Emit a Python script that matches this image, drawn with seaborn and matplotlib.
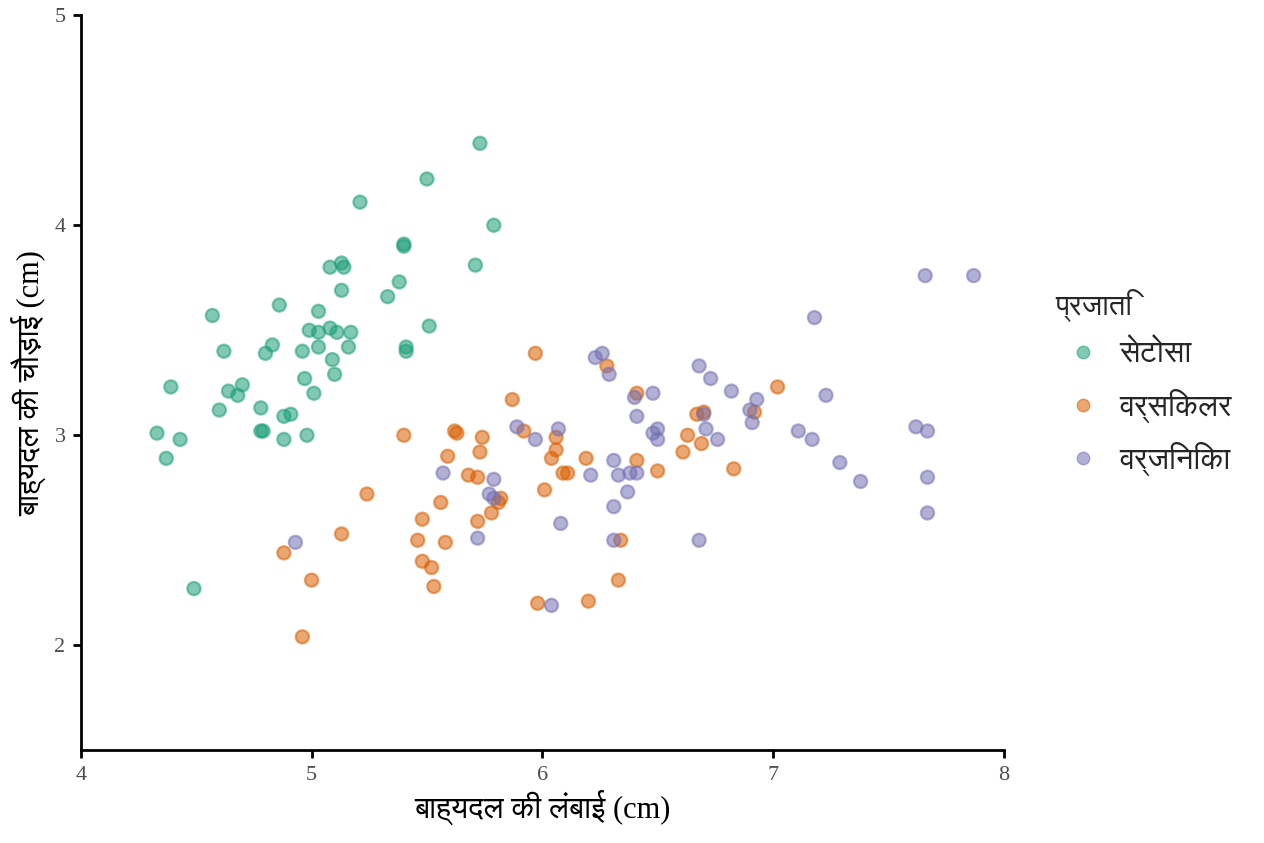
import matplotlib
matplotlib.use("Agg")
from matplotlib import pyplot as plt
from matplotlib import font_manager
from matplotlib.ft2font import FT2Font
import numpy as np
import pandas as pd
import seaborn as sns

# Values (jittered iris sepals)

setosa_len = [
    4.33, 4.37, 4.39, 4.43, 4.49, 4.57, 4.60, 4.62, 4.64, 4.68,
    4.70, 4.78, 4.78, 4.79, 4.80, 4.83, 4.86, 4.88, 4.88, 4.91,
    4.96, 4.97, 4.98, 4.99, 5.01, 5.03, 5.03, 5.03, 5.08, 5.08,
    5.09, 5.10, 5.11, 5.13, 5.13, 5.14, 5.16, 5.17, 5.21, 5.33,
    5.38, 5.40, 5.40, 5.41, 5.41, 5.50, 5.51, 5.71, 5.73, 5.79,
]
setosa_wid = [
    3.01, 2.89, 3.23, 2.98, 2.27, 3.57, 3.12, 3.40, 3.21, 3.19,
    3.24, 3.13, 3.02, 3.02, 3.39, 3.43, 3.62, 2.98, 3.09, 3.10,
    3.40, 3.27, 3.00, 3.50, 3.20, 3.49, 3.59, 3.42, 3.80, 3.51,
    3.36, 3.29, 3.49, 3.69, 3.82, 3.80, 3.42, 3.49, 4.11, 3.66,
    3.73, 3.91, 3.90, 3.40, 3.42, 4.22, 3.52, 3.81, 4.39, 4.00,
]
versicolor_len = [
    5.97, 6.28, 6.41, 5.87, 5.40, 5.62, 5.63, 5.74, 5.92, 6.06,
    5.73, 6.06, 5.59, 6.04, 6.19, 6.41, 5.68, 5.72, 6.09, 6.11,
    6.01, 5.24, 5.82, 5.81, 5.56, 5.78, 5.48, 5.72, 5.13, 6.34,
    5.46, 5.58, 4.88, 5.48, 5.52, 6.33, 5.00, 5.53, 5.98, 6.20,
    4.96, 7.02, 6.67, 6.70, 6.92, 6.63, 6.69, 6.61, 6.50, 6.83,
]
versicolor_wid = [
    3.39, 3.33, 3.20, 3.17, 3.00, 3.02, 3.01, 2.99, 3.02, 2.99,
    2.92, 2.93, 2.90, 2.89, 2.89, 2.88, 2.81, 2.80, 2.82, 2.82,
    2.74, 2.72, 2.70, 2.68, 2.68, 2.63, 2.60, 2.59, 2.53, 2.50,
    2.50, 2.49, 2.44, 2.40, 2.37, 2.31, 2.31, 2.28, 2.20, 2.21,
    2.04, 3.23, 3.10, 3.11, 3.11, 3.00, 2.96, 2.92, 2.83, 2.84,
]
virginica_len = [
    6.23, 6.26, 6.29, 6.40, 6.41, 5.89, 6.07, 5.97, 6.31, 6.21,
    6.33, 6.38, 6.41, 5.57, 5.79, 6.37, 5.77, 5.79, 6.31, 6.08,
    5.72, 6.31, 4.93, 6.04, 6.68, 6.73, 6.82, 7.23, 6.93, 6.48,
    6.90, 6.70, 6.91, 6.50, 6.48, 6.50, 6.71, 6.76, 7.11, 7.17,
    7.29, 7.38, 7.62, 7.67, 7.67, 7.67, 6.68, 7.18, 7.66, 7.87,
]
virginica_wid = [
    3.37, 3.39, 3.29, 3.18, 3.09, 3.04, 3.03, 2.98, 2.88, 2.81,
    2.81, 2.82, 2.82, 2.82, 2.79, 2.73, 2.72, 2.70, 2.66, 2.58,
    2.51, 2.50, 2.49, 2.19, 3.33, 3.27, 3.21, 3.19, 3.17, 3.20,
    3.12, 3.10, 3.06, 3.03, 3.01, 2.98, 3.03, 2.98, 3.02, 2.98,
    2.87, 2.78, 3.04, 3.02, 2.80, 2.63, 2.50, 3.56, 3.76, 3.76,
]

species = ["सेटोसा", "वर्सिकलर", "वर्जिनिका"]
x_label = "बाह्यदल की लंबाई (cm)"
y_label = "बाह्यदल की चौड़ाई (cm)"
legend_title = "प्रजाति"
x_ticks = [4, 5, 6, 7, 8]
y_ticks = [2, 3, 4, 5]


def find_devanagari_font():
    """Return the name of an installed family that has Devanagari glyphs."""
    preferred = []
    others = []
    for f in font_manager.fontManager.ttflist:
        try:
            cmap = FT2Font(f.fname).get_charmap()
        except Exception:
            continue
        if 0x0915 in cmap and 0x093F in cmap:
            if "Sans" in f.name:
                preferred.append(f.name)
            else:
                others.append(f.name)
    found = preferred + others
    return found[0] if found else "DejaVu Sans"


def main():
    df = pd.DataFrame({
        "length": setosa_len + versicolor_len + virginica_len,
        "width": setosa_wid + versicolor_wid + virginica_wid,
        "species": (
            [species[0]] * len(setosa_len)
            + [species[1]] * len(versicolor_len)
            + [species[2]] * len(virginica_len)
        ),
    })

    sns.set_style("ticks")
    deva = find_devanagari_font()
    plt.rcParams["font.family"] = ["Liberation Serif", deva, "DejaVu Sans"]

    fig = plt.figure(figsize=(12.64, 8.43), dpi=100)
    ax = fig.add_axes([0.064, 0.110, 0.730, 0.872])

    palette = sns.color_palette("Dark2", 3)
    sns.scatterplot(
        data=df, x="length", y="width", hue="species", hue_order=species,
        palette=palette, alpha=0.55, s=90, edgecolor="face", linewidth=1.6,
        ax=ax, legend=False,
    )

    ax.set_xlim(4, 8)
    ax.set_ylim(1.5, 5)
    ax.set_xticks(x_ticks)
    ax.set_yticks(y_ticks)
    ax.tick_params(
        axis="both", width=2, length=6, color="black", labelsize=16,
        labelcolor="#4d4d4d", pad=5,
    )
    for side in ["left", "bottom"]:
        ax.spines[side].set_linewidth(2)
        ax.spines[side].set_color("black")
    sns.despine(ax=ax)

    ax.set_xlabel(x_label, fontsize=22, color="black", labelpad=4)
    ax.set_ylabel(y_label, fontsize=22, color="black", labelpad=6)

    handles = [
        plt.Line2D(
            [], [], marker="o", linestyle="", markersize=9,
            markerfacecolor=c, markeredgecolor=c, alpha=0.55,
        )
        for c in palette
    ]
    leg = ax.legend(
        handles, species, title=legend_title, frameon=False,
        loc="center left", bbox_to_anchor=(1.043, 0.50), fontsize=22,
        title_fontsize=21, handletextpad=0.3, labelspacing=0.62,
        handlelength=1.8, borderaxespad=0,
    )
    leg._legend_box.align = "left"

    fig.savefig("out.png", dpi=100)


if __name__ == "__main__":
    main()
